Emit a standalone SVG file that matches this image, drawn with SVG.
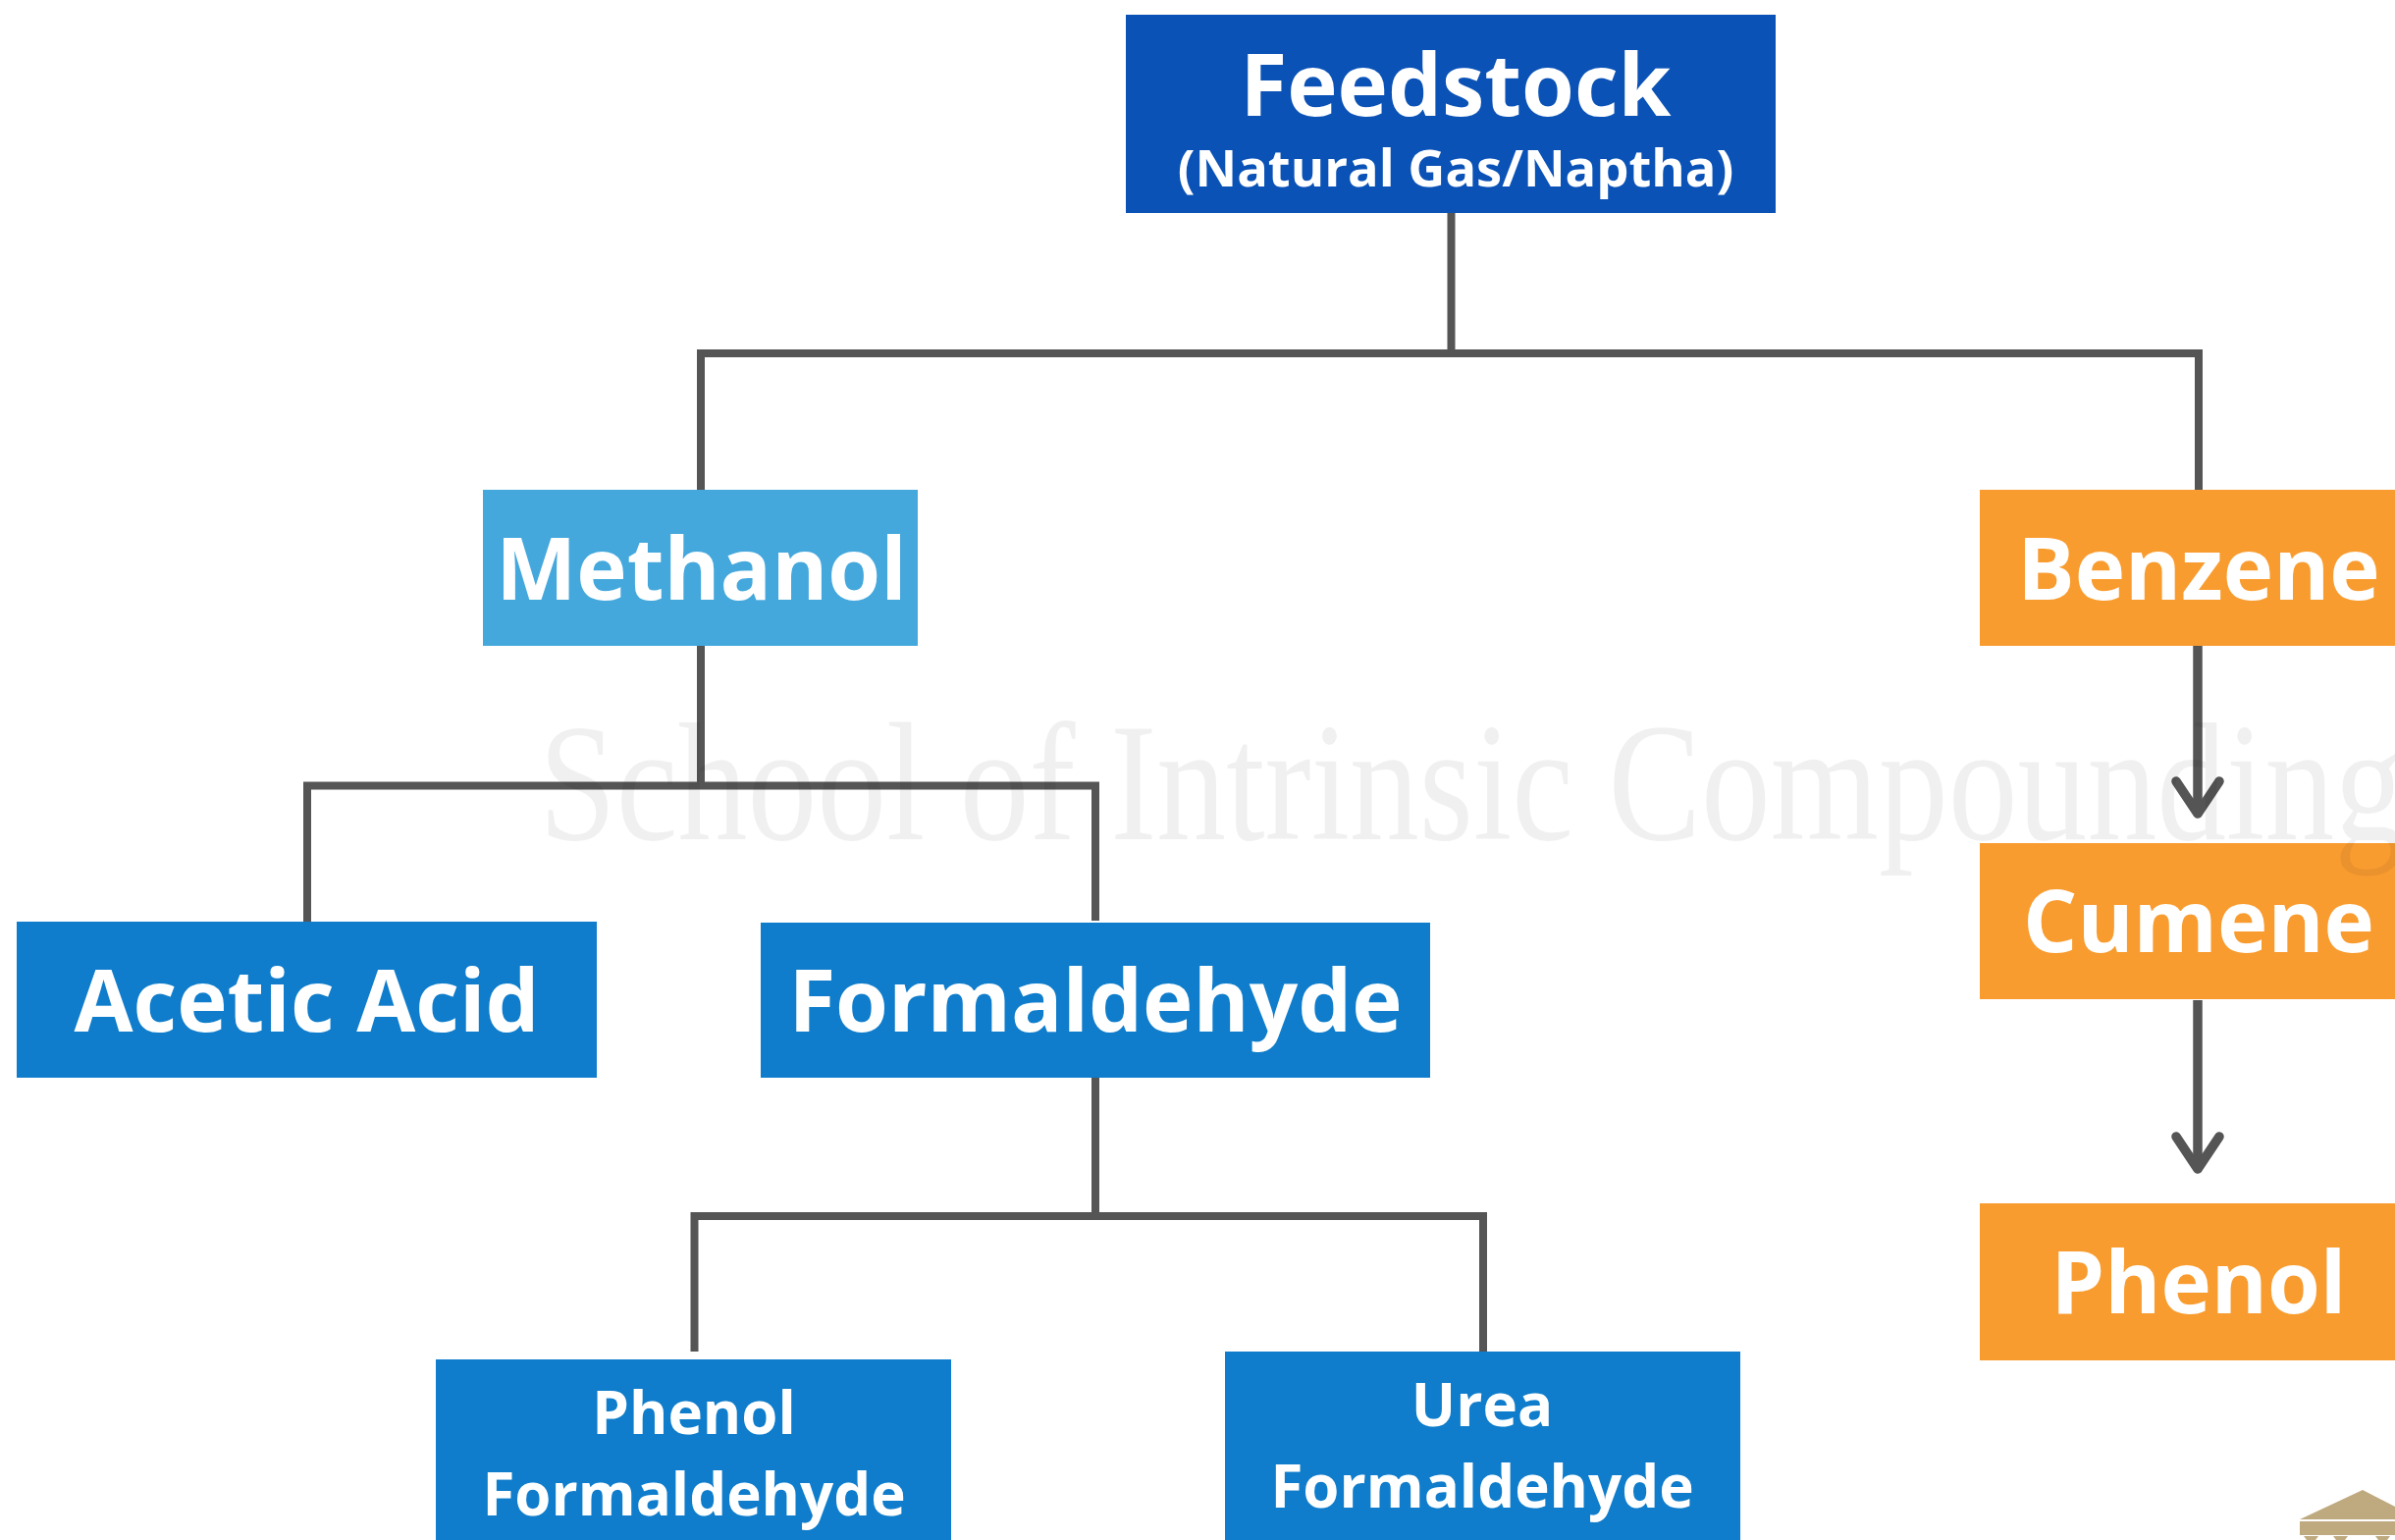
<svg xmlns="http://www.w3.org/2000/svg" width="2440" height="1569" viewBox="0 0 2440 1569">
<style>
text{font-family:"Open Sans","Noto Sans",sans-serif;font-weight:700;fill:#fff;text-anchor:middle}
.big{font-size:87px}.mid{font-size:52.500px}.sm{font-size:60px}
.line{fill:none;stroke:#555;stroke-width:8}
.arrow{fill:none;stroke:#555;stroke-width:9.500}
.head{fill:none;stroke:#555;stroke-width:9.500;stroke-linecap:round;stroke-linejoin:round}
.blue{fill:#0f7dcb}.orange{fill:#f99c30}
</style>
<rect width="2440" height="1569" fill="#fff"/>
<g id="connectors">
<path class="line" d="M1478.500 217V360M714 499V360H2240V499"/>
<path class="line" d="M714 658V800.500M313 939V800.500H1116V938"/>
<path class="line" d="M1116 1098V1239M707.500 1377V1239H1511V1377"/>
<path class="arrow" d="M2239 658V828M2239 1019V1190"/>
<path class="head" d="M2217 796L2239 829L2261 796M2217 1158L2239 1191L2261 1158"/>
</g>
<g id="feedstock"><rect x="1147" y="15" width="662" height="202" fill="#0b52b7"/><text x="1483" y="118" class="big">Feedstock</text><text x="1483" y="190" class="mid">(Natural Gas/Naptha)</text></g>
<g id="methanol"><rect x="492" y="499" width="443" height="159" fill="#45a8dd"/><text x="714.500" y="610.500" class="big">Methanol</text></g>
<g id="benzene"><rect x="2017" y="499" width="423" height="159" class="orange"/><text x="2240" y="610.500" class="big">Benzene</text></g>
<g id="cumene"><rect x="2017" y="859" width="423" height="159" class="orange"/><text x="2240" y="970" class="big">Cumene</text></g>
<g id="phenol"><rect x="2017" y="1226" width="423" height="160" class="orange"/><text x="2240" y="1338" class="big">Phenol</text></g>
<g id="acetic-acid"><rect x="17" y="939" width="591" height="159" class="blue"/><text x="312.500" y="1051" class="big">Acetic Acid</text></g>
<g id="formaldehyde"><rect x="775" y="940" width="682" height="158" class="blue"/><text x="1116" y="1051" class="big">Formaldehyde</text></g>
<g id="phenol-formaldehyde"><rect x="444" y="1385" width="525" height="184" class="blue"/><text x="707" y="1461" class="sm">Phenol</text><text x="707" y="1544" class="sm">Formaldehyde</text></g>
<g id="urea-formaldehyde"><rect x="1248" y="1377" width="525" height="192" class="blue"/><text x="1510" y="1453" class="sm">Urea</text><text x="1510" y="1536" class="sm">Formaldehyde</text></g>
<text x="549" y="855" textLength="1900" lengthAdjust="spacingAndGlyphs" style="font-family:'Liberation Serif',serif;font-weight:400;font-size:171px;fill:#000;fill-opacity:.06;text-anchor:start">School of Intrinsic Compounding</text>
<g id="logo" fill="#bfa97f"><path d="M2343 1548L2407 1518L2440 1535V1548Z"/><rect x="2343" y="1550" width="97" height="14"/><path d="M2347 1565h15l-3 4h-9zM2377 1565h15l-3 4h-9zM2420 1565h15l-3 4h-9z"/></g>
</svg>
